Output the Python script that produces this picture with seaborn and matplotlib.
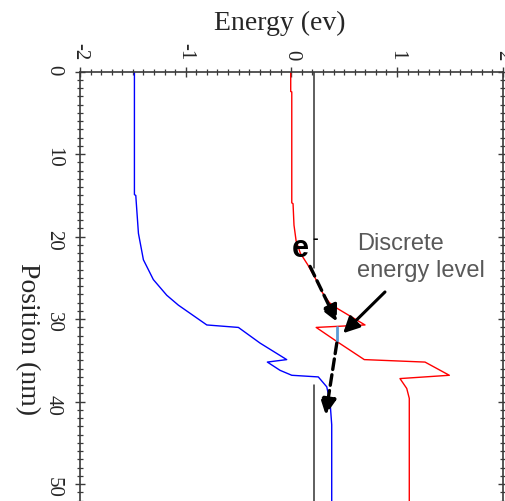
import matplotlib.pyplot as plt
import pandas as pd
import seaborn as sns
from matplotlib.ticker import MultipleLocator

# Band diagram: position (nm) against energy (eV)
CB_POS = [0, 2.4, 2.45, 15.9, 16.0, 18.6, 20.5, 22.0, 23.4, 25.0, 26.7, 28.0, 28.7,
          30.7, 31.0, 32.7, 34.9, 35.2, 36.8, 37.2, 38.4, 39.6, 52.1]
CB_E = [-0.006, -0.006, 0.004, 0.004, 0.016, 0.025, 0.045, 0.085, 0.155, 0.225, 0.29,
        0.36, 0.435, 0.697, 0.235, 0.43, 0.69, 1.265, 1.495, 1.028, 1.092, 1.116, 1.116]

VB_POS = [0, 14.9, 15.0, 15.6, 19.6, 22.8, 25.2, 27.1, 28.3, 30.7, 31.0, 32.9, 34.9,
          35.2, 36.2, 36.8, 37.0, 38.2, 40.0, 42.8, 52.1]
VB_E = [-1.485, -1.485, -1.472, -1.469, -1.447, -1.400, -1.306, -1.179, -1.069, -0.800,
        -0.501, -0.296, -0.044, -0.227, -0.107, 0.004, 0.255, 0.335, 0.366, 0.382, 0.382]

# Fermi level, drawn in two pieces
FERMI_E = 0.218
FERMI_SEG = [1, 1, 2, 2]
FERMI_POS = [0, 23.8, 38.0, 52.1]

# discrete level inside the well
LEVEL_E = 0.43
LEVEL_POS = [30.9, 32.7]

E_TICKS = [-2, -1, 0, 1, 2]
E_LABELS = ['-2', '-1', '0', '1', '2']
POS_TICKS = [0, 10, 20, 30, 40, 50]
POS_LABELS = ['0', '10', '20', '30', '40', '50']

AXIS_COLOR = '#3a3a3a'


def main():
    sns.set_style('ticks')
    plt.rcParams['font.family'] = ['Liberation Serif', 'DejaVu Serif']

    fig = plt.figure(figsize=(5.06, 5.01), dpi=100)
    ax = fig.add_axes([80 / 506, 0, 422.7 / 506, 429.3 / 501])

    cb = pd.DataFrame({'Energy': CB_E, 'Position': CB_POS})
    vb = pd.DataFrame({'Energy': VB_E, 'Position': VB_POS})
    fermi = pd.DataFrame({'Energy': [FERMI_E] * len(FERMI_POS), 'Position': FERMI_POS,
                          'seg': FERMI_SEG})
    level = pd.DataFrame({'Energy': [LEVEL_E] * len(LEVEL_POS), 'Position': LEVEL_POS})

    sns.lineplot(data=fermi, x='Energy', y='Position', units='seg', estimator=None,
                 sort=False, color='#333333', lw=1.1, ax=ax)
    sns.lineplot(data=cb, x='Energy', y='Position', estimator=None, sort=False,
                 color='#ff0000', lw=1.0, ax=ax)
    sns.lineplot(data=vb, x='Energy', y='Position', estimator=None, sort=False,
                 color='#0000ff', lw=1.0, ax=ax)
    sns.lineplot(data=level, x='Energy', y='Position', estimator=None, sort=False,
                 color='#5b9bd5', lw=2.0, ax=ax)

    ax.set_xlim(-2, 2)
    ax.set_ylim(52.04, 0)

    # axes frame and ticks
    ax.spines['bottom'].set_visible(False)
    for side in ['top', 'left', 'right']:
        ax.spines[side].set_color(AXIS_COLOR)
        ax.spines[side].set_linewidth(1.2)

    ax.set_xticks(E_TICKS)
    ax.set_xticklabels(E_LABELS)
    ax.set_yticks(POS_TICKS)
    ax.set_yticklabels(POS_LABELS)
    ax.xaxis.set_minor_locator(MultipleLocator(0.1))
    ax.yaxis.set_minor_locator(MultipleLocator(1))

    ax.tick_params(axis='x', which='both', top=True, bottom=False, labeltop=True,
                   labelbottom=False, direction='inout', color=AXIS_COLOR)
    ax.tick_params(axis='y', which='both', left=True, right=True, labelleft=True,
                   labelright=False, direction='inout', color=AXIS_COLOR)
    ax.tick_params(which='major', length=7.5, width=1.0, labelsize=15, labelrotation=-90)
    ax.tick_params(which='minor', length=4, width=0.9)
    ax.tick_params(axis='x', which='major', pad=4.7)
    ax.tick_params(axis='y', which='major', pad=8.5)

    ax.xaxis.set_label_position('top')
    ax.set_xlabel('Energy (ev)', fontsize=20)
    ax.xaxis.set_label_coords(0.472, 1.097)
    ax.set_ylabel('Position (nm)', fontsize=20, rotation=-90, va='center', ha='center')
    ax.yaxis.set_label_coords(-0.124, 0.377)

    # annotations
    sans = ['Liberation Sans', 'DejaVu Sans']
    ax.text(0.087, 22.45, 'e', family=sans, fontsize=22, fontweight='bold',
            ha='center', va='baseline', color='black')
    ax.text(0.229, 20.2, '-', family=sans, fontsize=12, fontweight='bold',
            ha='center', va='center', color='black')
    ax.text(0.619, 19.5, 'Discrete\nenergy level', family=sans, fontsize=17,
            color='#595959', ha='left', va='top', linespacing=1.3)

    dashed = dict(arrowstyle='-|>', ls=(0, (3.2, 1.6)), lw=2.4, color='black',
                  mutation_scale=24, shrinkA=0, shrinkB=0)
    ax.annotate('', xy=(0.43, 30.3), xytext=(0.177, 23.6), arrowprops=dashed)
    ax.annotate('', xy=(0.325, 41.6), xytext=(0.43, 32.9), arrowprops=dashed)
    ax.annotate('', xy=(0.49, 31.7), xytext=(0.886, 26.7),
                arrowprops=dict(arrowstyle='-|>', lw=2.2, color='black',
                                mutation_scale=24, shrinkA=0, shrinkB=0))

    fig.savefig('out.png', dpi=100)


if __name__ == '__main__':
    main()
